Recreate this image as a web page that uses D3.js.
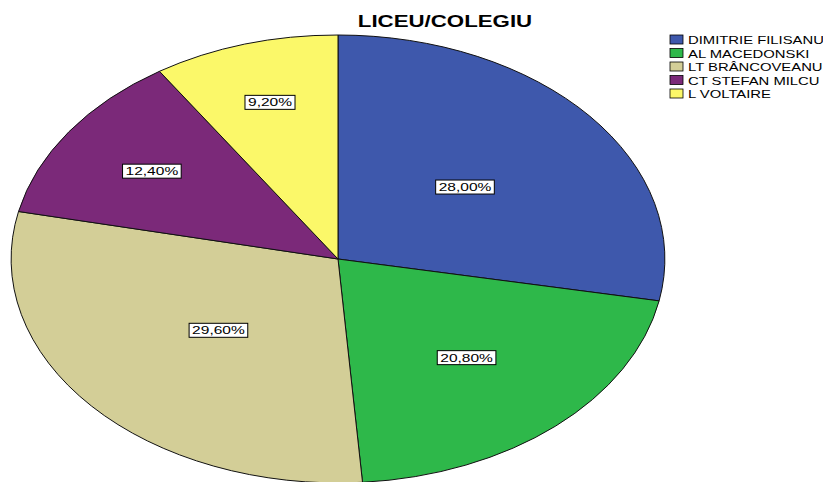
<!DOCTYPE html>
<html>
<head>
<meta charset="utf-8">
<script src="https://cdn.jsdelivr.net/npm/d3@7"></script>
<style>
  body { margin: 0; background: #fff; }
  svg { display: block; }
</style>
</head>
<body>
<div id="wrapper"></div>
<script>
const categories = ['DIMITRIE FILISANU', 'AL MACEDONSKI', 'LT BRÂNCOVEANU', 'CT STEFAN MILCU', 'L VOLTAIRE']
const percents = [28.0, 20.8, 29.6, 12.4, 9.2]
const colors = ['#3e58ac', '#2eb84a', '#d3ce97', '#7b2979', '#fbf869']
const title = 'LICEU/COLEGIU'

const drawPie = () => {
    const dimensions = {
        width: 823,
        height: 482,
        cx: 338,
        cy: 259,
        rx: 327,
        ry: 224,
    }
    // the source renders its type stretched sideways
    const stretch = 1.35
    const font = 'Liberation Sans, Arial, sans-serif'

    const wrapper = d3.select('#wrapper')
        .append('svg')
        .attr('width', dimensions.width)
        .attr('height', dimensions.height)

    const data = categories.map((c, i) => ({ name: c, value: percents[i], color: colors[i] }))

    const pie = d3.pie()
        .value(d => d.value)
        .sort(null)

    const arcs = pie(data)

    // unit circle, stretched into the ellipse
    const arc = d3.arc().innerRadius(0).outerRadius(1)

    const bounds = wrapper.append('g')
        .attr('transform', `translate(${dimensions.cx}, ${dimensions.cy})`)

    bounds.selectAll('path')
        .data(arcs)
        .join('path')
        .attr('d', arc)
        .attr('transform', `scale(${dimensions.rx}, ${dimensions.ry})`)
        .attr('fill', d => d.data.color)
        .attr('stroke', '#111')
        .attr('stroke-width', 1)
        .attr('vector-effect', 'non-scaling-stroke')

    // labels, smaller slices pushed further out
    const fmt = v => v.toFixed(2).replace('.', ',') + '%'
    const labels = bounds.selectAll('g.label')
        .data(arcs)
        .join('g')
        .attr('class', 'label')
        .attr('transform', d => {
            const share = (d.endAngle - d.startAngle) / (2 * Math.PI)
            const k = 0.84 - 1.2 * share
            const mid = (d.startAngle + d.endAngle) / 2
            const x = Math.sin(mid) * dimensions.rx * k
            const y = -Math.cos(mid) * dimensions.ry * k
            return `translate(${x}, ${y})`
        })

    labels.append('text')
        .text(d => fmt(d.data.value))
        .attr('text-anchor', 'middle')
        .attr('dy', '0.36em')
        .attr('transform', `scale(${stretch}, 1)`)
        .style('font-family', font)
        .style('font-size', '11.5px')
        .attr('fill', '#000')

    labels.each(function () {
        const g = d3.select(this)
        const bb = g.select('text').node().getBBox()
        const w = bb.width * stretch + 6
        g.insert('rect', 'text')
            .attr('x', -w / 2)
            .attr('y', -7)
            .attr('width', w)
            .attr('height', 14)
            .attr('fill', '#fff')
            .attr('stroke', '#000')
            .attr('stroke-width', 1)
    })

    // title
    wrapper.append('g')
        .attr('transform', 'translate(445, 26.5)')
        .append('text')
        .text(title)
        .attr('text-anchor', 'middle')
        .attr('transform', `scale(${stretch}, 1)`)
        .style('font-family', font)
        .style('font-weight', 'bold')
        .style('font-size', '16.5px')
        .attr('fill', '#000')

    // legend
    const legend = wrapper.append('g')
        .attr('transform', 'translate(670, 35)')

    const rows = legend.selectAll('g')
        .data(data)
        .join('g')
        .attr('transform', (d, i) => `translate(0, ${i * 13.5})`)

    rows.append('rect')
        .attr('width', 13)
        .attr('height', 9)
        .attr('fill', d => d.color)
        .attr('stroke', '#000')
        .attr('stroke-width', 0.8)

    rows.append('text')
        .text(d => d.name)
        .attr('transform', `translate(18, 9) scale(${stretch}, 1)`)
        .style('font-family', font)
        .style('font-size', '11px')
        .attr('fill', '#000')
}
drawPie()
</script>
</body>
</html>
